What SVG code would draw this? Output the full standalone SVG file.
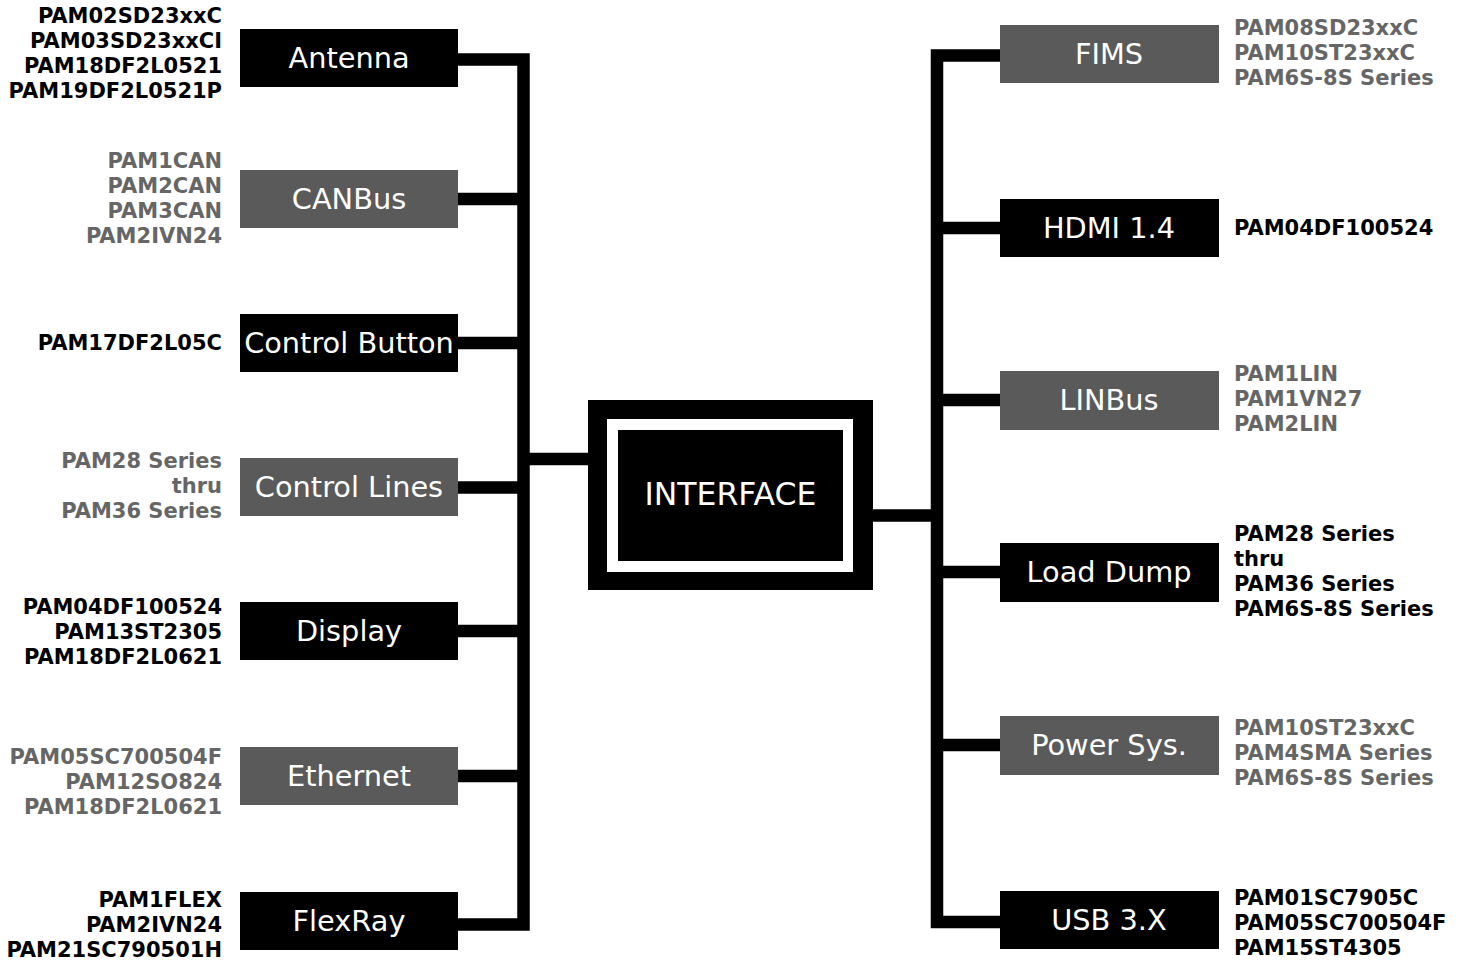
<svg xmlns="http://www.w3.org/2000/svg" width="1465" height="961" viewBox="0 0 1465 961">
<style>
.bk{fill:#000}
.gy{fill:#5a5a5a}
.bl{font-family:"DejaVu Sans","Verdana",sans-serif;font-size:28.8px;fill:#fff;text-anchor:middle}
.pl{font-family:"DejaVu Sans","Verdana",sans-serif;font-size:21px;font-weight:bold}
.pb{fill:#000}
.pg{fill:#666}
.L{text-anchor:end}
.R{text-anchor:start}
.con{fill:none;stroke:#000;stroke-width:12.5;stroke-linejoin:miter;stroke-linecap:butt}
</style>
<rect width="1465" height="961" fill="#fff"/>
<g id="connectors">
<path class="con" d="M458 59.5 H523.5 V924.5 H458"/>
<path class="con" d="M458 199 H523.5 M458 343 H523.5 M458 487.5 H523.5 M458 631 H523.5 M458 776 H523.5 M523.5 459 H590"/>
<path class="con" d="M1000 55.5 H937 V922 H1000"/>
<path class="con" d="M937 228 H1000 M937 400 H1000 M937 572 H1000 M937 745 H1000 M871 515.5 H937"/>
</g>
<g id="interface">
<rect x="588" y="400" width="285" height="190" class="bk"/>
<rect x="607" y="419" width="246" height="153" fill="#fff"/>
<rect x="618" y="430" width="225" height="131" class="bk"/>
<text x="730.5" y="504.5" class="bl" style="font-size:31.5px">INTERFACE</text>
</g>
<g id="antenna">
<rect x="240" y="29" width="218" height="58" class="bk"/>
<text x="349" y="67.5" class="bl">Antenna</text>
<text class="pl pb L" x="222" y="23">PAM02SD23xxC</text>
<text class="pl pb L" x="222" y="48">PAM03SD23xxCI</text>
<text class="pl pb L" x="222" y="73">PAM18DF2L0521</text>
<text class="pl pb L" x="222" y="98">PAM19DF2L0521P</text>
</g>
<g id="canbus">
<rect x="240" y="170" width="218" height="58" class="gy"/>
<text x="349" y="208.5" class="bl">CANBus</text>
<text class="pl pg L" x="222" y="168">PAM1CAN</text>
<text class="pl pg L" x="222" y="193">PAM2CAN</text>
<text class="pl pg L" x="222" y="218">PAM3CAN</text>
<text class="pl pg L" x="222" y="243">PAM2IVN24</text>
</g>
<g id="control-button">
<rect x="240" y="314" width="218" height="58" class="bk"/>
<text x="349" y="352.5" class="bl">Control Button</text>
<text class="pl pb L" x="222" y="350">PAM17DF2L05C</text>
</g>
<g id="control-lines">
<rect x="240" y="458" width="218" height="58" class="gy"/>
<text x="349" y="496.5" class="bl">Control Lines</text>
<text class="pl pg L" x="222" y="468">PAM28 Series</text>
<text class="pl pg L" x="222" y="493">thru</text>
<text class="pl pg L" x="222" y="518">PAM36 Series</text>
</g>
<g id="display">
<rect x="240" y="602" width="218" height="58" class="bk"/>
<text x="349" y="640.5" class="bl">Display</text>
<text class="pl pb L" x="222" y="614">PAM04DF100524</text>
<text class="pl pb L" x="222" y="639">PAM13ST2305</text>
<text class="pl pb L" x="222" y="664">PAM18DF2L0621</text>
</g>
<g id="ethernet">
<rect x="240" y="747" width="218" height="58" class="gy"/>
<text x="349" y="785.5" class="bl">Ethernet</text>
<text class="pl pg L" x="222" y="764">PAM05SC700504F</text>
<text class="pl pg L" x="222" y="789">PAM12SO824</text>
<text class="pl pg L" x="222" y="814">PAM18DF2L0621</text>
</g>
<g id="flexray">
<rect x="240" y="892" width="218" height="58" class="bk"/>
<text x="349" y="930.5" class="bl">FlexRay</text>
<text class="pl pb L" x="222" y="907">PAM1FLEX</text>
<text class="pl pb L" x="222" y="932">PAM2IVN24</text>
<text class="pl pb L" x="222" y="957">PAM21SC790501H</text>
</g>
<g id="fims">
<rect x="1000" y="25" width="219" height="58" class="gy"/>
<text x="1109" y="63.5" class="bl">FIMS</text>
<text class="pl pg R" x="1234" y="35">PAM08SD23xxC</text>
<text class="pl pg R" x="1234" y="60">PAM10ST23xxC</text>
<text class="pl pg R" x="1234" y="85">PAM6S-8S Series</text>
</g>
<g id="hdmi">
<rect x="1000" y="199" width="219" height="58" class="bk"/>
<text x="1109" y="237.5" class="bl">HDMI 1.4</text>
<text class="pl pb R" x="1234" y="235">PAM04DF100524</text>
</g>
<g id="linbus">
<rect x="1000" y="371" width="219" height="59" class="gy"/>
<text x="1109" y="409.5" class="bl">LINBus</text>
<text class="pl pg R" x="1234" y="381">PAM1LIN</text>
<text class="pl pg R" x="1234" y="406">PAM1VN27</text>
<text class="pl pg R" x="1234" y="431">PAM2LIN</text>
</g>
<g id="load-dump">
<rect x="1000" y="543" width="219" height="59" class="bk"/>
<text x="1109" y="581.5" class="bl">Load Dump</text>
<text class="pl pb R" x="1234" y="541">PAM28 Series</text>
<text class="pl pb R" x="1234" y="566">thru</text>
<text class="pl pb R" x="1234" y="591">PAM36 Series</text>
<text class="pl pb R" x="1234" y="616">PAM6S-8S Series</text>
</g>
<g id="power-sys">
<rect x="1000" y="716" width="219" height="59" class="gy"/>
<text x="1109" y="754.5" class="bl">Power Sys.</text>
<text class="pl pg R" x="1234" y="735">PAM10ST23xxC</text>
<text class="pl pg R" x="1234" y="760">PAM4SMA Series</text>
<text class="pl pg R" x="1234" y="785">PAM6S-8S Series</text>
</g>
<g id="usb">
<rect x="1000" y="891" width="219" height="58" class="bk"/>
<text x="1109" y="929.5" class="bl">USB 3.X</text>
<text class="pl pb R" x="1234" y="905">PAM01SC7905C</text>
<text class="pl pb R" x="1234" y="930">PAM05SC700504F</text>
<text class="pl pb R" x="1234" y="955">PAM15ST4305</text>
</g>
</svg>
